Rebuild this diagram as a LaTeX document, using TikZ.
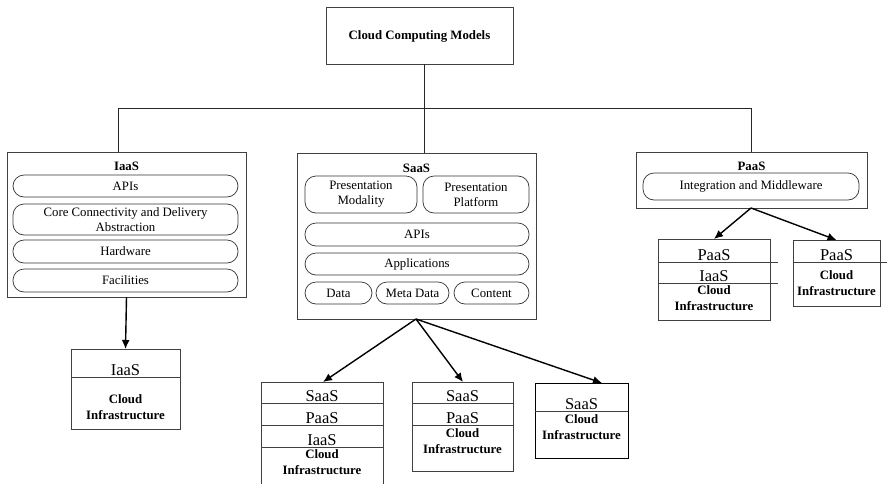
\documentclass[tikz,border=0pt]{standalone}
\usepackage{fontspec}
\setmainfont{Liberation Serif}
\usetikzlibrary{arrows.meta}
\tikzset{
  rect/.style n args={4}{inner sep=0pt, outer sep=0pt, minimum width={(#3)-(#1)}, minimum height={(#4)-(#2)}, at={({((#1)+(#3))/2},{((#2)+(#4))/2})}},
  frame/.style={draw=black!75, line width=0.8pt},
  pill/.style={draw=black!80, line width=0.7pt, rounded corners=11pt},
  txt/.style={inner sep=0pt, font=\fontsize{12.8}{15}\selectfont},
  btxt/.style={inner sep=0pt, font=\fontsize{12.8}{16}\selectfont\bfseries, align=center},
  layer/.style={inner sep=0pt, anchor=base, font=\fontsize{16.5}{18}\selectfont},
  sep/.style={draw=black!75, line width=0.8pt},
  conn/.style={draw=black!85, line width=0.8pt},
  arr/.style={draw=black, line width=1.4pt, -{Latex[length=9pt,width=8pt]}}
}
\begin{document}
\begin{tikzpicture}[x=1pt,y=-1pt]
\clip (0,0) rectangle (887,483);
\fill[white] (0,0) rectangle (887,483);
% top
\node[frame, rect={326}{7}{513}{64}] (top) {};
\node[btxt] (toptxt) at (419.5,36) {Cloud Computing Models};
\coordinate (tb) at (424,64);
\coordinate (hub) at (424,108);
\coordinate (hl) at (118,108);
\coordinate (hr) at (751,108);
% IaaS
\node[frame, rect={7}{152}{246}{297}] (iaas) {};
\node[btxt] (iaast) at (126.5,166) {IaaS};
\node[pill, rect={13}{175}{238}{197}] (ip1) {};
\node[txt] at (ip1.center) {APIs};
\node[pill, rect={13}{204}{238}{235}] (ip2) {};
\node[txt, align=center, font=\fontsize{12.8}{15.5}\selectfont] at (ip2.center) {Core Connectivity and Delivery\\Abstraction};
\node[pill, rect={13}{240}{238}{263}] (ip3) {};
\node[txt] at (ip3.center) {Hardware};
\node[pill, rect={13}{269}{238}{292}] (ip4) {};
\node[txt] at (ip4.center) {Facilities};
% SaaS
\node[frame, rect={297}{153}{536}{319}] (saas) {};
\node[btxt] (saast) at (416.5,168) {SaaS};
\node[pill, rect={305}{176}{417}{213}] (sp1) {};
\node[txt, align=center] at (sp1.center) {Presentation\\Modality};
\node[pill, rect={423}{176}{529}{213}] (sp2) {};
\node[txt, align=center] at (sp2.center) {Presentation\\Platform};
\node[pill, rect={305}{223}{529}{246}] (sp3) {};
\node[txt] at (sp3.center) {APIs};
\node[pill, rect={305}{253}{529}{275}] (sp4) {};
\node[txt] at (sp4.center) {Applications};
\node[pill, rect={305}{282}{372}{304}] (sp5) {};
\node[txt] at (sp5.center) {Data};
\node[pill, rect={376}{282}{449}{304}] (sp6) {};
\node[txt] at (sp6.center) {Meta Data};
\node[pill, rect={454}{282}{529}{304}] (sp7) {};
\node[txt] at (sp7.center) {Content};
% PaaS
\node[frame, rect={636}{152}{867}{208}] (paas) {};
\node[btxt] (paast) at (751.5,166) {PaaS};
\node[pill, rect={643}{173}{859}{200}] (pp1) {};
\node[txt] at (pp1.center) {Integration and Middleware};
% top connectors
\draw[conn] (tb) -- (hub);
\draw[conn] (hl) -- (hr);
\draw[conn] (hl) -- (hl |- iaas.north);
\draw[conn] (hub) -- (hub |- saas.north);
\draw[conn] (hr) -- (hr |- paas.north);
% IaaS stack
\node[frame, rect={71}{349}{180}{429}] (ib) {};
\draw[sep] (71,377) -- (180,377);
\node[layer] at (125.5,375.5) {IaaS};
\node[btxt] at (125.5,407) {Cloud\\Infrastructure};
\draw[arr] (iaas.south) -- (ib.north);
% SaaS stacks
\node[frame, rect={261}{382}{383}{500}] (b1) {};
\draw[sep] (261,403) -- (383,403);
\draw[sep] (261,425) -- (383,425);
\draw[sep] (261,447) -- (383,447);
\node[layer] at (322,401.5) {SaaS};
\node[layer] at (322,423.5) {PaaS};
\node[layer] at (322,445.5) {IaaS};
\node[btxt] at (322,462) {Cloud\\Infrastructure};
\node[frame, rect={412}{382}{513}{471}] (b2) {};
\draw[sep] (412,403) -- (513,403);
\draw[sep] (412,425) -- (513,425);
\node[layer] at (462.5,401.5) {SaaS};
\node[layer] at (462.5,423.5) {PaaS};
\node[btxt] at (462.5,441) {Cloud\\Infrastructure};
\node[frame, draw=black, rect={535}{383}{628}{458}] (b3) {};
\draw[sep] (535,411) -- (628,411);
\node[layer] at (581.5,409.5) {SaaS};
\node[btxt] at (581.5,427.5) {Cloud\\Infrastructure};
\coordinate (sb) at (416,319);
\coordinate (t1) at (323,382);
\coordinate (t2) at (463,382);
\coordinate (t3) at (602,383);
\draw[arr] (sb) -- (t1);
\draw[arr] (sb) -- (t2);
\draw[arr] (sb) -- (t3);
% PaaS stacks
\node[frame, rect={658}{239}{770}{320}] (p1) {};
\draw[sep] (658,262) -- (778,262);
\draw[sep] (658,283) -- (778,283);
\node[layer] at (714,260.5) {PaaS};
\node[layer] at (714,281.5) {IaaS};
\node[btxt] at (714,298) {Cloud\\Infrastructure};
\node[frame, rect={793}{240}{880}{306}] (p2) {};
\draw[sep] (793,262) -- (887,262);
\node[layer] at (836.5,260.5) {PaaS};
\node[btxt] at (836.5,283) {Cloud\\Infrastructure};
\coordinate (pb) at (751,208);
\draw[arr] (pb) -- (p1.north);
\draw[arr] (pb) -- (p2.north);
\end{tikzpicture}
\end{document}
